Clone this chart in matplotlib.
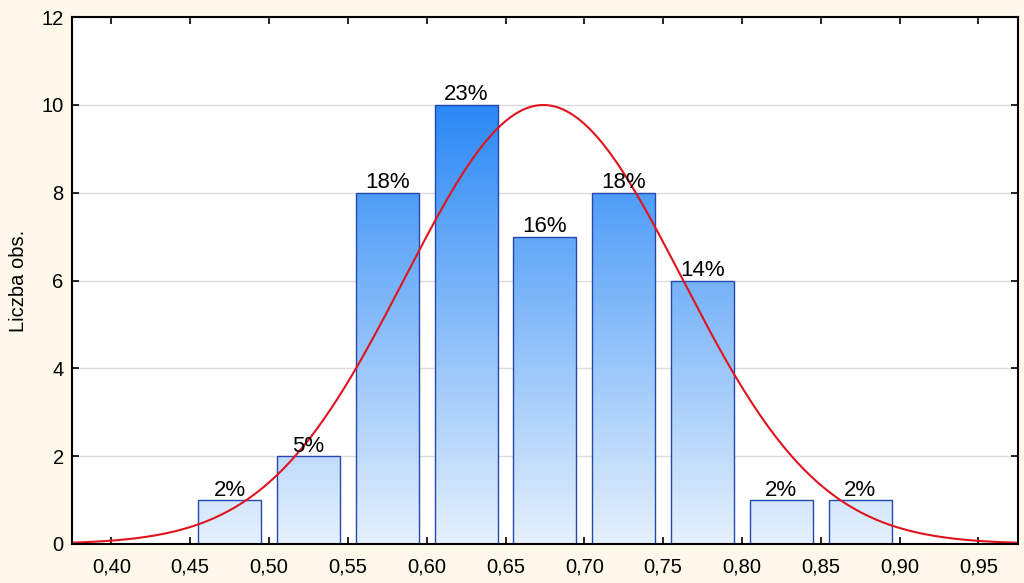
import matplotlib.pyplot as plt
import numpy as np
from matplotlib.colors import LinearSegmentedColormap
from matplotlib.patches import Rectangle
from matplotlib.ticker import FuncFormatter

plt.rcParams['font.family'] = ['Liberation Sans', 'DejaVu Sans']

# histogram data
bin_centers = [0.475, 0.525, 0.575, 0.625, 0.675, 0.725, 0.775, 0.825, 0.875]
counts = [1, 2, 8, 10, 7, 8, 6, 1, 1]
pct_labels = ["2%", "5%", "18%", "23%", "16%", "18%", "14%", "2%", "2%"]

# fitted normal curve parameters
mean = 0.674
sd = 0.0878
bin_width = 0.05
n_obs = sum(counts)

fig = plt.figure(figsize=(10.24, 5.83), dpi=100)
fig.patch.set_facecolor("#fdf8ea")
ax = fig.add_axes([0.0703, 0.0669, 0.9237, 0.9039])
ax.set_facecolor("white")

cmap = LinearSegmentedColormap.from_list("bars", ["#e6f1fd", "#2a88f5"])
grad = np.linspace(0, 1, 256).reshape(-1, 1)
bar_w = 0.04

for xc, c, lab in zip(bin_centers, counts, pct_labels):
    x0 = xc - bar_w / 2
    im = ax.imshow(grad, cmap=cmap, origin="lower", aspect="auto",
                   extent=(x0, x0 + bar_w, 0, 10), vmin=0, vmax=1, zorder=2)
    rect = Rectangle((x0, 0), bar_w, c, facecolor="none", edgecolor="#2447b0",
                     linewidth=1.0, zorder=3)
    ax.add_patch(rect)
    im.set_clip_path(rect)
    ax.text(xc, c + 0.1, lab, ha="center", va="baseline", fontsize=16, zorder=5)

xs = np.linspace(0.375, 0.975, 400)
ys = n_obs * bin_width / (sd * np.sqrt(2 * np.pi)) * np.exp(-(xs - mean) ** 2 / (2 * sd ** 2))
ax.plot(xs, ys, color="#e0141e", linewidth=1.5, zorder=4)

ax.set_xlim(0.375, 0.975)
ax.set_ylim(0, 12)
ax.set_xticks(np.arange(0.40, 0.951, 0.05))
ax.set_yticks(np.arange(0, 13, 2))
ax.xaxis.set_major_formatter(FuncFormatter(lambda v, p: f"{v:.2f}".replace(".", ",")))
ax.yaxis.grid(True, color="#dcdcdc", linewidth=1.0, zorder=0)
ax.set_axisbelow(True)
ax.tick_params(direction="in", top=True, right=True, length=5, width=1.2,
               labelsize=14.5, colors="black")
ax.tick_params(axis="x", pad=10)
ax.tick_params(axis="y", pad=6)
for s in ax.spines.values():
    s.set_linewidth(1.5)
    s.set_zorder(6)

ax.set_ylabel("Liczba obs.", fontsize=14.5, labelpad=10)

plt.savefig("out.png", dpi=100, facecolor=fig.get_facecolor())
